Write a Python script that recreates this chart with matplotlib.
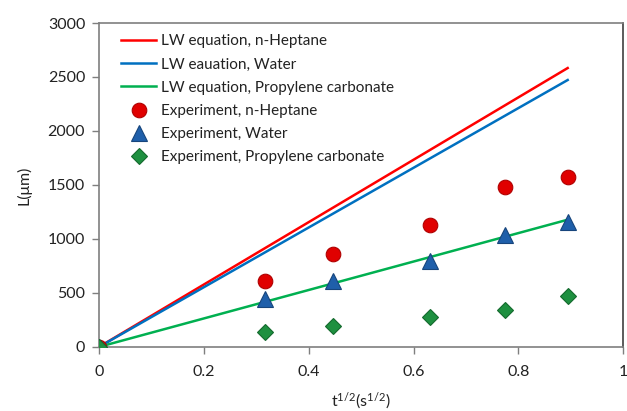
import matplotlib
matplotlib.use("Agg")
import matplotlib.pyplot as plt

plt.rcParams['font.family'] = ['Lato', 'DejaVu Sans']
plt.rcParams['mathtext.fontset'] = 'custom'
plt.rcParams['mathtext.rm'] = 'Lato'

# Lucas-Washburn predictions (straight lines from the origin)
lw_x = [0.0, 0.894]
lw_heptane = [0, 2583]
lw_water = [0, 2472]
lw_pc = [0, 1178]

# Measured penetration lengths
exp_x = [0.0, 0.316, 0.447, 0.632, 0.775, 0.894]
exp_heptane = [0, 610, 862, 1132, 1480, 1572]
exp_water = [0, 445, 608, 800, 1040, 1158]
exp_pc = [0, 135, 195, 280, 340, 472]

labels_lines = ['LW equation, n-Heptane', 'LW eauation, Water',
                'LW equation, Propylene carbonate']
labels_exp = ['Experiment, n-Heptane', 'Experiment, Water',
              'Experiment, Propylene carbonate']

x_ticks = [0, 0.2, 0.4, 0.6, 0.8, 1]
y_ticks = [0, 500, 1000, 1500, 2000, 2500, 3000]

fig = plt.figure(figsize=(6.27, 4.11), dpi=100)
ax = fig.add_axes([0.158, 0.156, 0.836, 0.788])

ax.plot(lw_x, lw_heptane, color='#FF0000', lw=1.8, label=labels_lines[0], zorder=2)
ax.plot(lw_x, lw_water, color='#0070C0', lw=1.8, label=labels_lines[1], zorder=2)
ax.plot(lw_x, lw_pc, color='#00B050', lw=1.8, label=labels_lines[2], zorder=2)

ax.plot(exp_x, exp_heptane, ls='none', marker='o', ms=10.5,
        mfc='#E00000', mec='#B00000', mew=0.8, label=labels_exp[0], zorder=3)
ax.plot(exp_x, exp_water, ls='none', marker='^', ms=11,
        mfc='#1F5FAA', mec='#17457C', mew=0.8, label=labels_exp[1], zorder=4)
ax.plot(exp_x, exp_pc, ls='none', marker='D', ms=8,
        mfc='#1E9040', mec='#146A2E', mew=0.8, label=labels_exp[2], zorder=5)

ax.set_xlim(0, 1)
ax.set_ylim(0, 3000)
ax.set_xticks(x_ticks)
ax.set_xticklabels(['0', '0.2', '0.4', '0.6', '0.8', '1'])
ax.set_yticks(y_ticks)

for s in ax.spines.values():
    s.set_color('#7F7F7F')
    s.set_linewidth(1.2)
ax.spines['right'].set_color('#404040')

ax.tick_params(direction='out', length=5, width=1, color='#7F7F7F',
               labelsize=11.5, labelcolor='#222222', pad=5)
ax.tick_params(axis='x', pad=8)

ax.set_xlabel(r'$\mathregular{t^{1/2}(s^{1/2})}$', fontsize=11.5, color='#222222', labelpad=8)
ax.set_ylabel('L(μm)', fontsize=11.5, color='#222222', labelpad=12)

leg = ax.legend(loc='upper left', bbox_to_anchor=(0.025, 0.993), frameon=False,
                fontsize=11, handlelength=2.3, handletextpad=0.3,
                labelspacing=0.6, borderaxespad=0.2)
for t in leg.get_texts():
    t.set_color('#222222')

fig.savefig('out.png', dpi=100)
